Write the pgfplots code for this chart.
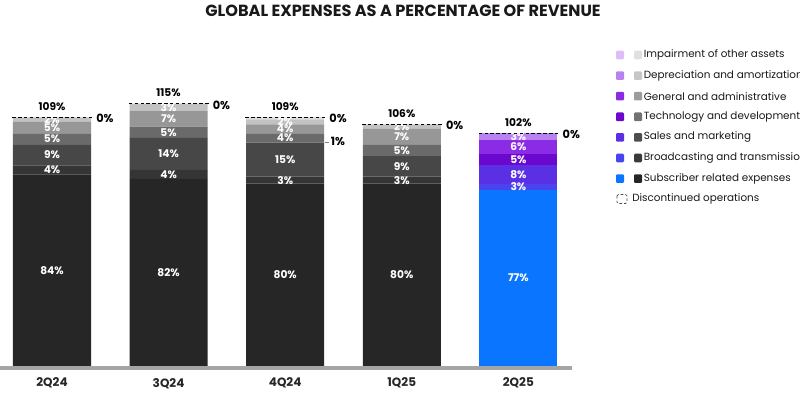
\documentclass[border=0pt]{standalone}
\usepackage{pgfplots}
\pgfplotsset{compat=1.18}
\usepackage{fontspec}
\setmainfont{Poppins}

\definecolor{gsub}{HTML}{262626}
\definecolor{gbro}{HTML}{353535}
\definecolor{gsal}{HTML}{474747}
\definecolor{gtec}{HTML}{6A6A6A}
\definecolor{gga}{HTML}{979797}
\definecolor{gda}{HTML}{C2C2C2}
\definecolor{gimp}{HTML}{DEDEDE}
\definecolor{csub}{HTML}{0A76FF}
\definecolor{cbro}{HTML}{4A44EE}
\definecolor{csal}{HTML}{5B2FE4}
\definecolor{ctec}{HTML}{6A08CE}
\definecolor{cga}{HTML}{8C2BE6}
\definecolor{cda}{HTML}{B883F1}
\definecolor{cimp}{HTML}{DDBDF7}
\definecolor{lgsub}{HTML}{262626}
\definecolor{lgbro}{HTML}{3A3A3A}
\definecolor{lgsal}{HTML}{4E4E4E}
\definecolor{lgtec}{HTML}{727272}
\definecolor{lgga}{HTML}{9C9C9C}
\definecolor{lgda}{HTML}{C6C6C6}
\definecolor{lgimp}{HTML}{E0E0E0}
\definecolor{axgrey}{HTML}{A5A5A5}

\pgfplotsset{
  seglab/.style={
    nodes near coords={\pgfmathfloatifflags{\pgfplotspointmeta}{0}{}{\pgfmathprintnumber{\pgfplotspointmeta}\%}},
    nodes near coords align=center,
    every node near coord/.append style={anchor=center,
      text=white, font=\bfseries\fontsize{8}{9}\selectfont, inner sep=0pt},
  },
  base/.style={
    at={(0pt,21.75pt)}, anchor=south west, scale only axis,
    width=429pt, height=206.74pt,
    xmin=-0.446, xmax=4.46, ymin=-0.9, ymax=120,
    clip=false, ytick=\empty,
    /pgf/number format/assume math mode=true,
  },
  common/.style={base, ybar stacked, bar width=58.5pt},
}

\begin{document}
\begin{tikzpicture}
\useasboundingbox (0,0) rectangle (600pt,297.75pt);
\begin{axis}[common,
  axis x line*=bottom, axis y line=none,
  x axis line style={line width=3pt, color=axgrey, -},
  xtick={0,1,2,3,4}, xticklabels={2Q24,3Q24,4Q24,1Q25,2Q25},
  major tick length=0pt,
  xticklabel style={font=\bfseries\fontsize{9}{10}\selectfont, yshift=-4pt, text=black!85},
]
\addplot[fill=gsub, draw=none, seglab] coordinates {(0,84) (1,82) (2,80) (3,80)};
\addplot[fill=gbro, draw=none, seglab] coordinates {(0,4) (1,4) (2,3) (3,3)};
\addplot[fill=gsal, draw=none, seglab] coordinates {(0,9) (1,14) (2,15) (3,9)};
\addplot[fill=gtec, draw=none, seglab] coordinates {(0,5) (1,5) (2,4) (3,5)};
\addplot[fill=gga, draw=none, seglab] coordinates {(0,5) (1,7) (2,4) (3,7)};
\addplot[fill=gda, draw=none, seglab] coordinates {(0,2) (1,3) (2,2) (3,2)};
\addplot[fill=gimp, draw=none,
  nodes near coords={\pgfmathfloatifflags{\pgfplotspointmeta}{0}{}{{\color{gray}\rule[2.4pt]{3pt}{0.6pt}}\hspace{1.5pt}\pgfmathprintnumber{\pgfplotspointmeta}\%}},
  nodes near coords align=center,
  every node near coord/.append style={anchor=west, xshift=29.5pt, yshift=-17.5pt, text=black, font=\bfseries\fontsize{8.5}{9}\selectfont, inner sep=0pt}]
  coordinates {(0,0) (1,0) (2,1) (3,0)};
\end{axis}

\begin{axis}[common, hide axis]
\addplot[fill=csub, draw=none, seglab] coordinates {(4,77)};
\addplot[fill=cbro, draw=none, seglab] coordinates {(4,3)};
\addplot[fill=csal, draw=none, seglab] coordinates {(4,8)};
\addplot[fill=ctec, draw=none, seglab] coordinates {(4,5)};
\addplot[fill=cga, draw=none, seglab] coordinates {(4,6)};
\addplot[fill=cda, draw=none, seglab] coordinates {(4,3)};
\addplot[fill=cimp, draw=none, seglab] coordinates {(4,0)};
\end{axis}

% discontinued operations (0%) drawn at the top of each bar, with totals
\begin{axis}[base, hide axis]
\addplot[only marks, mark=-, mark size=30pt,
  mark options={draw=black, line width=0.7pt, dash pattern=on 2.6pt off 1.8pt},
  point meta=y,
  nodes near coords={\pgfmathprintnumber{\pgfplotspointmeta}\%},
  every node near coord/.append style={anchor=south, yshift=5pt, text=black, font=\bfseries\fontsize{8}{9}\selectfont, inner sep=0pt}]
  coordinates {(0,109) (1,115) (2,109) (3,106) (4,102)};
\addplot[only marks, mark=none, draw=none,
  point meta=explicit symbolic, nodes near coords,
  every node near coord/.append style={anchor=west, xshift=33pt, yshift=-1pt, text=black, font=\bfseries\fontsize{8.5}{9}\selectfont, inner sep=0pt}]
  coordinates {(0,109)[0\%] (1,115)[0\%] (2,109)[0\%] (3,106)[0\%] (4,102)[0\%]};
\end{axis}

\begin{scope}[x=0.75pt,y=-0.75pt,shift={(0pt,297.75pt)}]
\node[font=\bfseries\fontsize{12.1}{14}\selectfont, text=black!90] at (403,11) {GLOBAL EXPENSES AS A PERCENTAGE OF REVENUE};
\foreach \i/\ca/\cb/\t in {0/cimp/lgimp/Impairment of other assets,
                            1/cda/lgda/Depreciation and amortization,
                            2/cga/lgga/General and administrative,
                            3/ctec/lgtec/Technology and development,
                            4/csal/lgsal/Sales and marketing,
                            5/cbro/lgbro/Broadcasting and transmission,
                            6/csub/lgsub/Subscriber related expenses}{
  \pgfmathsetmacro\yy{55+20.6*\i}
  \fill[\ca, rounded corners=0.8pt] (616,\yy-4.3) rectangle (624,\yy+4.3);
  \fill[\cb, rounded corners=0.8pt] (634,\yy-4.3) rectangle (642,\yy+4.3);
  \node[anchor=west, inner sep=0pt, font=\fontsize{7.8}{9}\selectfont, text=black!90] at (643.5,\yy) {\t};
}
\draw[black!70, line width=0.6pt, dash pattern=on 2pt off 1.5pt, rounded corners=1pt] (617,194.5) rectangle (627,203.5);
\node[anchor=west, inner sep=0pt, font=\fontsize{7.8}{9}\selectfont, text=black!90] at (632,199) {Discontinued operations};
\end{scope}
\end{tikzpicture}
\end{document}
